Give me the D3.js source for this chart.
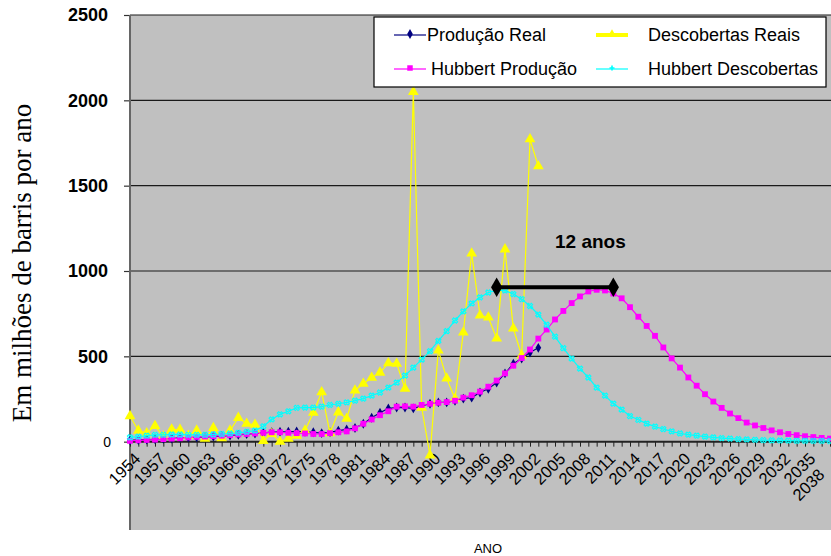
<!DOCTYPE html>
<html><head><meta charset="utf-8">
<script src="https://cdn.jsdelivr.net/npm/d3@7"></script>
<style>body{margin:0;background:#fff}svg{display:block}</style>
</head><body>
<script>
const years = [1954,1955,1956,1957,1958,1959,1960,1961,1962,1963,1964,1965,1966,1967,1968,1969,1970,1971,1972,1973,1974,1975,1976,1977,1978,1979,1980,1981,1982,1983,1984,1985,1986,1987,1988,1989,1990,1991,1992,1993,1994,1995,1996,1997,1998,1999,2000,2001,2002,2003,2004,2005,2006,2007,2008,2009,2010,2011,2012,2013,2014,2015,2016,2017,2018,2019,2020,2021,2022,2023,2024,2025,2026,2027,2028,2029,2030,2031,2032,2033,2034,2035,2036,2037,2038];
const xTickLabels = [1954,1957,1960,1963,1966,1969,1972,1975,1978,1981,1984,1987,1990,1993,1996,1999,2002,2005,2008,2011,2014,2017,2020,2023,2026,2029,2032,2035,2038];
const yTickValues = [0,500,1000,1500,2000,2500];

// 1954-2003
const producaoReal = [8,10,12,14,16,18,22,24,26,28, 30,32,36,40,44,48,52,56,58,58, 60,58,55,50,55,65,72,80,105,140, 170,195,200,200,195,210,222,230,230,240, 252,258,288,310,346,400,457,487,522,550];
const descobertasReais = [150,65,50,92,30,72,70,35,65,18, 80,20,65,140,105,100,5,45,0,18, 35,65,170,290,50,172,135,300,340,375, 405,460,457,310,2050,200,-80,535,370,252, 640,1103,740,728,605,1127,663,505,1772,1614];
// 1954-2038
const hubbertProducao = [5,8,10,12,15,18,20,25,28,30, 32,35,38,42,45,48,52,55,55,52, 50,48,45,45,50,55,60,78,105,130, 155,178,205,207,205,215,222,228,232,240, 258,272,293,322,358,400,445,490,540,604, 657,716,766,812,851,880,890,886,868,840, 788,732,678,620,552,488,434,376,328,278, 235,198,165,138,112,95,80,66,55,45, 38,32,27,22,18];
const hubbertDescobertas = [25,30,35,40,40,42,42,40,40,40, 42,45,48,52,58,65,90,130,160,178, 198,200,200,205,215,222,230,240,252,270, 288,317,346,387,434,481,530,590,648,710, 763,810,845,874,886,886,865,835,795,745, 685,615,548,487,428,376,317,270,223,188, 150,128,106,88,74,60,48,41,35,30, 25,21,18,15,13,11,9,8,7,6, 5,5,4,4,3];
const gapYears = [1998, 2012];
const gapValues = [905, 905];
const seriesNames = ["Produção Real","Descobertas Reais","Hubbert Produção","Hubbert Descobertas"];

const W=831,H=556;
const svg=d3.select("body").append("svg").attr("width",W).attr("height",H);
const L=130,R=831,T=15,B=527;
const x=d3.scalePoint().domain(years).range([130,830]);
const y=d3.scaleLinear().domain([-500,2500]).range([B,T]);

svg.append("rect").attr("x",L).attr("y",T).attr("width",R-L).attr("height",B-T+3).attr("fill","#c0c0c0");
// grid
svg.append("g").selectAll("line").data(yTickValues.filter(v=>v>0)).join("line")
  .attr("x1",L).attr("x2",R).attr("y1",d=>y(d)).attr("y2",d=>y(d))
  .attr("stroke","#1a1a1a").attr("stroke-width",1.2);

const fontSans="'Liberation Sans', Arial, sans-serif";
// y axis
const yAxis=d3.axisLeft(y).tickValues(yTickValues).tickSize(6).tickFormat(d3.format("d"));
const gy=svg.append("g").attr("transform",`translate(${L},0)`).call(yAxis);
gy.select(".domain").remove();
gy.selectAll(".tick line").attr("stroke","#333").attr("stroke-width",1.2);
gy.selectAll(".tick text").attr("x",d=>d===0?-19:-22).attr("font-family",fontSans)
  .attr("font-size",d=>d===0?14:18).attr("font-weight",d=>d===0?"normal":"bold").attr("fill","#000");
svg.append("line").attr("x1",L).attr("x2",L).attr("y1",T).attr("y2",B+3).attr("stroke","#666").attr("stroke-width",2);

// x axis
const xAxis=d3.axisBottom(x).tickValues(years).tickSize(5).tickFormat(d=>xTickLabels.includes(d)?d:"");
const gx=svg.append("g").attr("transform",`translate(0,${y(0)})`).call(xAxis);
gx.select(".domain").attr("stroke","#222").attr("stroke-width",2).attr("d",`M${L},0H${R}`);
gx.selectAll(".tick line").attr("stroke","#222");
gx.selectAll(".tick text").attr("font-family",fontSans).attr("font-size",16.5).attr("fill","#000")
  .attr("text-anchor","end").attr("dy",null).attr("y",0)
  .attr("transform",d=>d===2038?"translate(-5,34) rotate(-45)":"translate(11,18) rotate(-45)");

// series
function series(data,yrs,color,cls){
  const pts=data.map((v,i)=>[yrs[i],v]);
  svg.append("path").datum(pts).attr("fill","none").attr("stroke",color).attr("stroke-width",1.2)
    .attr("d",d3.line().x(d=>x(d[0])).y(d=>y(d[1])));
  return svg.append("g").attr("class",cls).selectAll("path").data(pts).join("path")
    .attr("transform",d=>`translate(${x(d[0])},${y(d[1])})`);
}
series(producaoReal,years,"#000080","pr").attr("d",d3.symbol(d3.symbolDiamond,28)).attr("fill","#000080");
series(descobertasReais,years,"#ffff00","dr").attr("d",d3.symbol(d3.symbolTriangle,50)).attr("fill","#ffff00");
series(hubbertProducao,years,"#ff00ff","hp").attr("d",d3.symbol(d3.symbolSquare,34)).attr("fill","#ff00ff");
series(hubbertDescobertas,years,"#00ffff","hd").attr("d",d3.symbol(d3.symbolCross,18)).attr("fill","none")
  .attr("stroke","#00ffff").attr("stroke-width",1).attr("transform",function(d){return `translate(${x(d[0])},${y(d[1])}) rotate(45)`;});

// 12 anos line
const gp=gapYears.map((v,i)=>[v,gapValues[i]]);
svg.append("path").datum(gp).attr("fill","none").attr("stroke","#000").attr("stroke-width",4)
  .attr("d",d3.line().x(d=>x(d[0])).y(d=>y(d[1])));
svg.append("g").selectAll("path").data(gp).join("path")
  .attr("transform",d=>`translate(${x(d[0])},${y(d[1])})`)
  .attr("d",d3.symbol(d3.symbolDiamond,110)).attr("fill","#000");
svg.append("text").attr("x",555).attr("y",248).attr("font-family",fontSans).attr("font-weight","bold")
  .attr("font-size",19).text("12 anos");

// legend
const lg=svg.append("g");
lg.append("rect").attr("x",374).attr("y",17).attr("width",452).attr("height",70).attr("fill","#fff").attr("stroke","#000").attr("stroke-width",1.2);
const items=[
 {name:seriesNames[0],lx:394,ty:35,tx:427,color:"#000080",sym:d3.symbolDiamond,sz:28,w:1.2},
 {name:seriesNames[1],lx:596,ty:35,tx:648,color:"#ffff00",sym:d3.symbolTriangle,sz:30,w:4},
 {name:seriesNames[2],lx:394,ty:69,tx:431,color:"#ff00ff",sym:d3.symbolSquare,sz:30,w:1.2},
 {name:seriesNames[3],lx:596,ty:69,tx:648,color:"#00ffff",sym:d3.symbolCross,sz:14,w:1.2}
];
items.forEach(it=>{
  lg.append("line").attr("x1",it.lx).attr("x2",it.lx+32).attr("y1",it.ty).attr("y2",it.ty).attr("stroke",it.color).attr("stroke-width",it.w);
  lg.append("path").attr("transform",`translate(${it.lx+16},${it.ty-1})`).attr("d",d3.symbol(it.sym,it.sz)).attr("fill",it.color);
  lg.append("text").attr("x",it.tx).attr("y",it.ty+6).attr("font-family",fontSans).attr("font-size",18).attr("fill","#000").text(it.name);
});

// titles
svg.append("text").attr("transform","translate(31,263) rotate(-90)").attr("text-anchor","middle")
  .attr("font-family","'Liberation Serif','Times New Roman',serif").attr("font-size",27).text("Em milhões de barris por ano");
svg.append("text").attr("x",488).attr("y",553).attr("text-anchor","middle").attr("font-family",fontSans).attr("font-size",13).text("ANO");
</script>
</body></html>
